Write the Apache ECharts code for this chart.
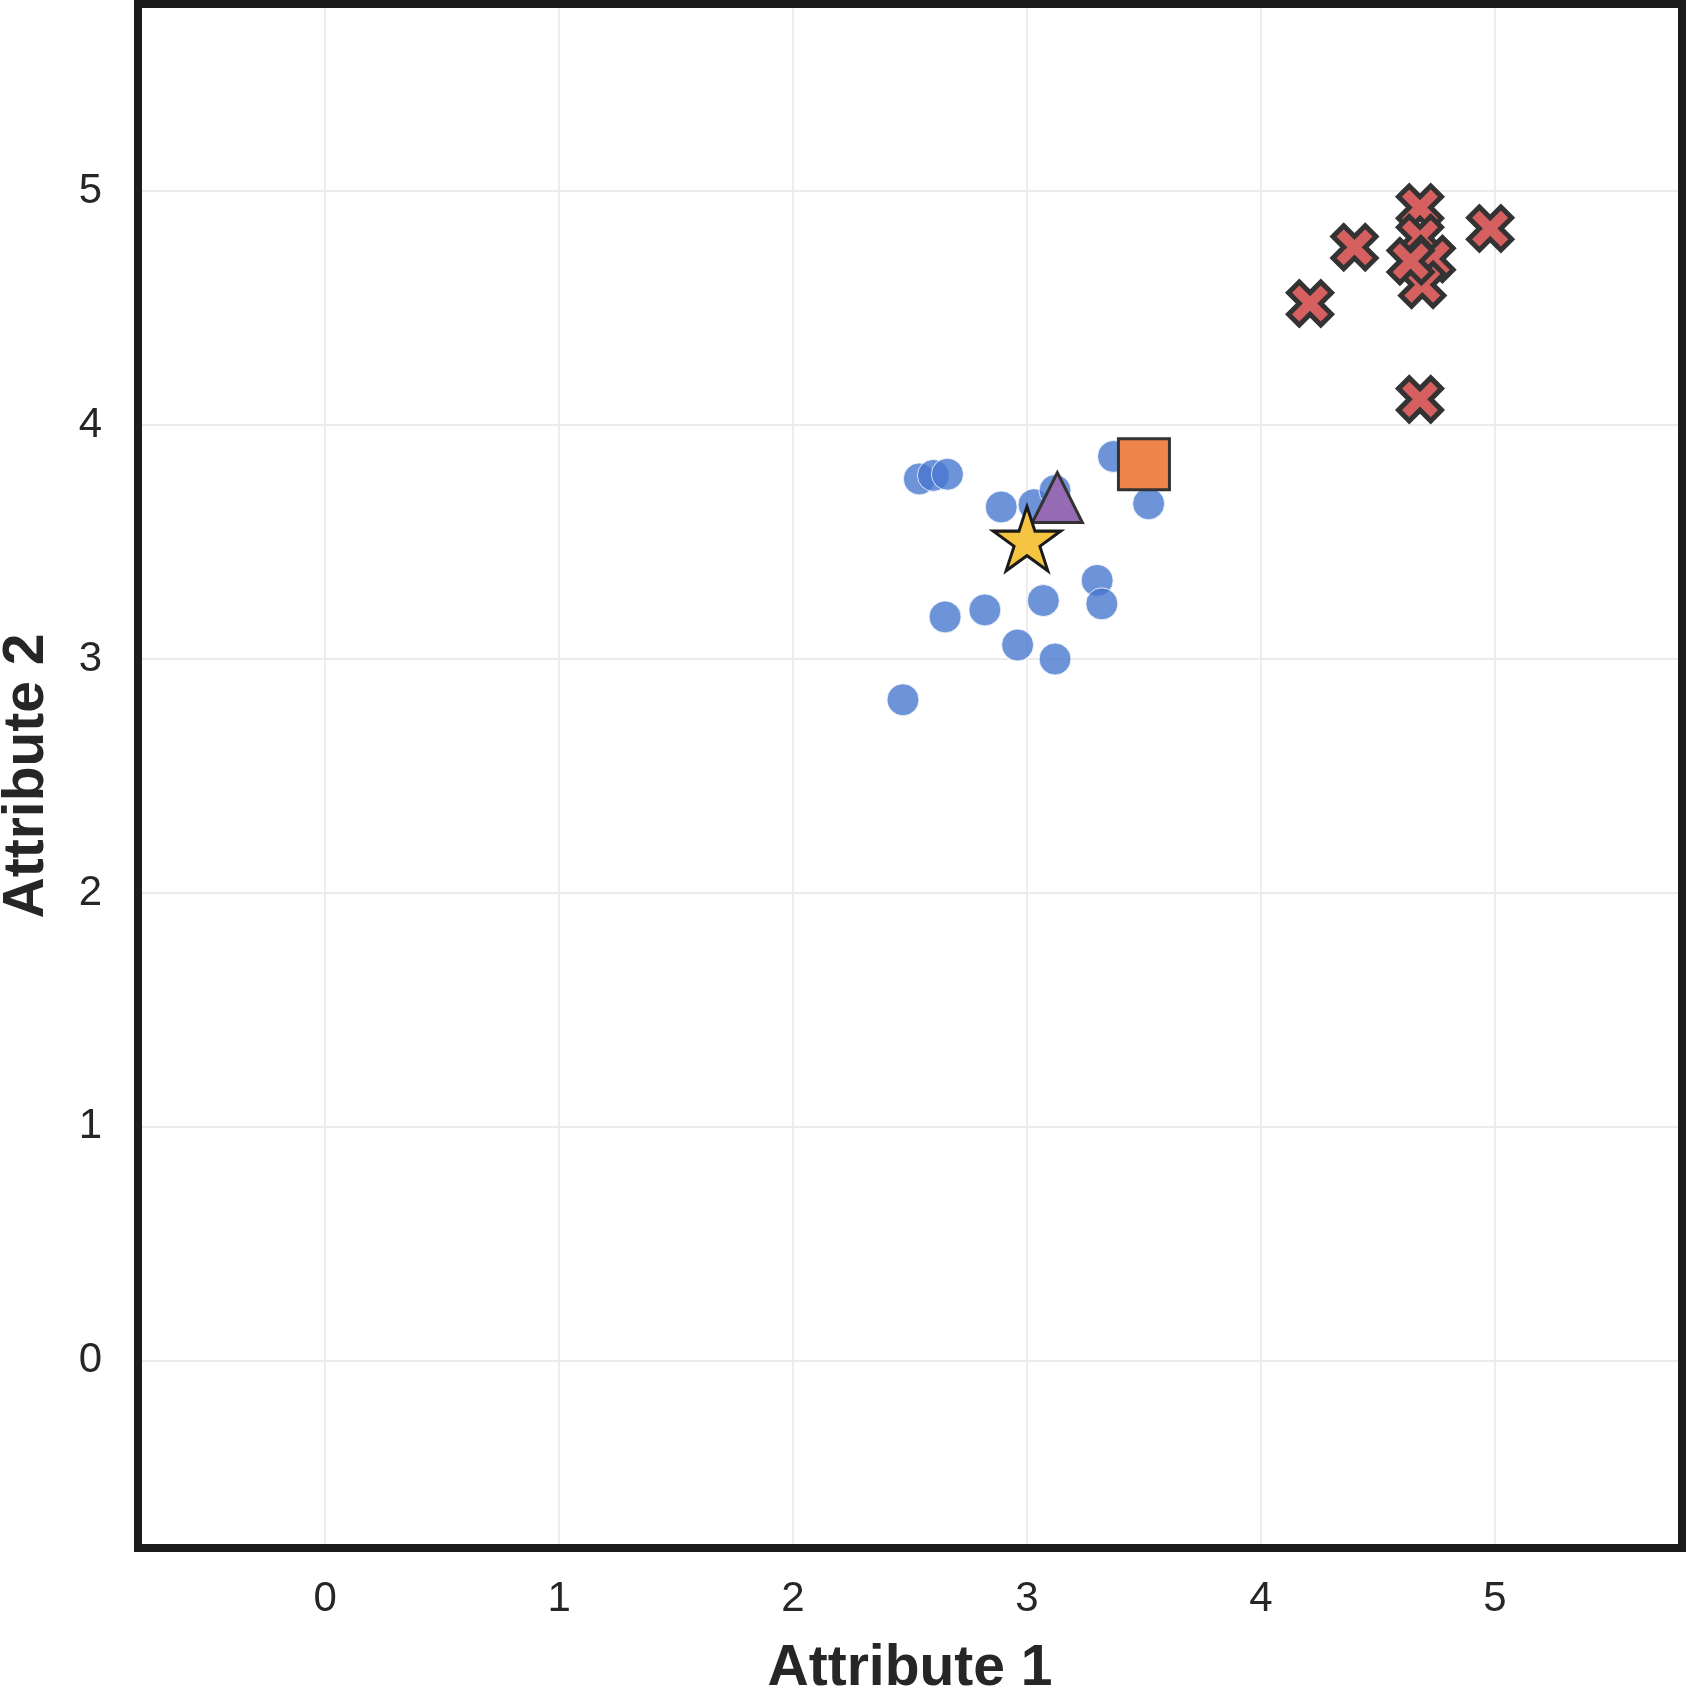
<!DOCTYPE html>
<html>
<head>
<meta charset="utf-8">
<script src="https://cdn.jsdelivr.net/npm/echarts@6/dist/echarts.min.js"></script>
<style>
  html, body { margin: 0; padding: 0; background: #fff; }
  #chart { width: 1686px; height: 1689px; }
</style>
</head>
<body>
<div id="chart"></div>
<script>
// cluster 1 (blue circles)
const blueX = [2.54, 2.60, 2.66, 2.89, 3.03, 3.12, 3.37, 3.52, 3.30, 3.32, 3.07, 2.82, 2.65, 2.96, 3.12, 2.47]
const blueY = [3.77, 3.785, 3.79, 3.65, 3.66, 3.72, 3.866, 3.664, 3.336, 3.236, 3.25, 3.21, 3.18, 3.06, 3.00, 2.826]

// cluster 2 (red crosses) - last one is drawn on top
const redX = [4.68, 4.98, 4.40, 4.21, 4.68, 4.68, 4.73, 4.69, 4.64]
const redY = [4.93, 4.84, 4.76, 4.52, 4.11, 4.80, 4.71, 4.60, 4.70]

// single highlighted points
const starPt = [3.00, 3.50]
const trianglePt = [3.13, 3.69]
const squarePt = [3.50, 3.833]

const axisMin = -0.8
const axisMax = 5.8

const FONT = 'Liberation Sans, Arial, Helvetica, sans-serif'
const TEXT = '#262626'

// matplotlib-like filled X and 5 point star
const xPath = 'path://M3,0L4,1L3,2L4,3L3,4L2,3L1,4L0,3L1,2L0,1L1,0L2,1Z'
const starPath = 'path://M0,-100L-22.45,-30.9L-95.11,-30.9L-36.33,11.8L-58.78,80.9L0,38.2L58.78,80.9L36.33,11.8L95.11,-30.9L22.45,-30.9ZM0,100L0,100'

function zip(xs, ys) {
  return xs.map((x, i) => [x, ys[i]])
}

function intLabel(v) {
  return Math.abs(v - Math.round(v)) < 1e-6 ? String(Math.round(v)) : ''
}

const chart = echarts.init(document.getElementById('chart'))

const gridLine = {
  show: true,
  showMinLine: false,
  showMaxLine: false,
  lineStyle: { color: '#ebebeb', width: 1.8 }
}

chart.setOption({
  animation: false,
  backgroundColor: '#fff',
  grid: {
    left: 138,
    right: 4,
    top: 4,
    bottom: 141,
    z: 3,
    containLabel: false,
    outerBoundsMode: 'none',
    show: true,
    borderWidth: 8,
    borderColor: '#1c1c1c',
    backgroundColor: 'transparent'
  },
  xAxis: {
    type: 'value',
    min: axisMin,
    max: axisMax,
    minInterval: 1,
    maxInterval: 1,
    name: 'Attribute 1',
    nameLocation: 'middle',
    nameGap: 93,
    nameTextStyle: { fontFamily: FONT, fontSize: 57, fontWeight: 'bold', color: TEXT },
    axisLine: { show: false },
    axisTick: { show: false },
    axisLabel: {
      margin: 30,
      fontFamily: FONT,
      fontSize: 42,
      color: TEXT,
      showMinLabel: false,
      showMaxLabel: false,
      formatter: intLabel
    },
    splitLine: gridLine
  },
  yAxis: {
    type: 'value',
    min: axisMin,
    max: axisMax,
    minInterval: 1,
    maxInterval: 1,
    name: 'Attribute 2',
    nameLocation: 'middle',
    nameRotate: 90,
    nameGap: 82,
    nameTextStyle: { fontFamily: FONT, fontSize: 57, fontWeight: 'bold', color: TEXT },
    axisLine: { show: false },
    axisTick: { show: false },
    axisLabel: {
      margin: 36,
      fontFamily: FONT,
      fontSize: 42,
      color: TEXT,
      showMinLabel: false,
      showMaxLabel: false,
      formatter: intLabel
    },
    splitLine: gridLine
  },
  series: [
    {
      type: 'scatter',
      data: zip(blueX, blueY),
      symbol: 'circle',
      symbolSize: 32,
      itemStyle: { color: '#4878d0', opacity: 0.8, borderColor: '#ffffff', borderWidth: 1 }
    },
    {
      type: 'scatter',
      data: zip(redX, redY),
      symbol: xPath,
      symbolSize: 43,
      itemStyle: { color: '#d65f5f', opacity: 1, borderColor: '#333333', borderWidth: 5 }
    },
    {
      type: 'scatter',
      data: [squarePt],
      symbol: 'rect',
      symbolSize: 51,
      itemStyle: { color: '#ee854a', opacity: 1, borderColor: '#333333', borderWidth: 3 }
    },
    {
      type: 'scatter',
      data: [trianglePt],
      symbol: 'triangle',
      symbolSize: [50, 50],
      itemStyle: { color: '#956cb4', opacity: 1, borderColor: '#333333', borderWidth: 3 }
    },
    {
      type: 'scatter',
      data: [starPt],
      symbol: starPath,
      symbolSize: [67.5, 71],
      itemStyle: { color: '#f5c542', opacity: 1, borderColor: '#1a1a1a', borderWidth: 3 }
    }
  ]
})
</script>
</body>
</html>
